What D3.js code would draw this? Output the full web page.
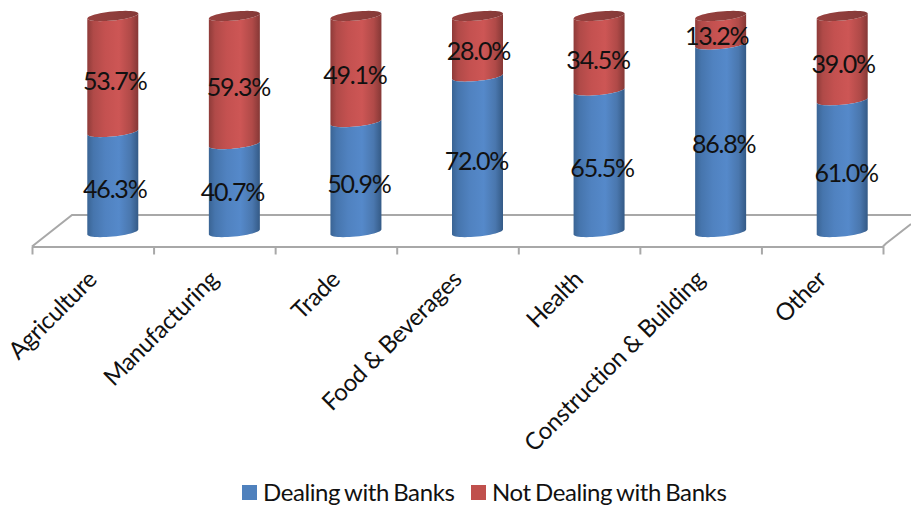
<!DOCTYPE html>
<html>
<head>
<meta charset="utf-8">
<script src="https://cdn.jsdelivr.net/npm/d3@7/dist/d3.min.js"></script>
<style>
  html, body { margin: 0; padding: 0; background: #fff; }
  svg { display: block; }
  text { font-family: Lato, "Open Sans", sans-serif; fill: #111; }
</style>
</head>
<body>
<script>
// Survey shares per sector
const categories = ["Agriculture", "Manufacturing", "Trade", "Food & Beverages", "Health", "Construction & Building", "Other"];
const dealing = [46.3, 40.7, 50.9, 72.0, 65.5, 86.8, 61.0];
const notDealing = [53.7, 59.3, 49.1, 28.0, 34.5, 13.2, 39.0];
const seriesNames = ["Dealing with Banks", "Not Dealing with Banks"];

// Hand-placed data label offsets from each segment's centre
const dealingNudge = [[2, 5], [-2, 2], [3, 5], [-1, 5], [3, 5], [3, 4], [4, 5]];
const notDealingNudge = [[2, 5], [4, 5], [-1, 4], [1, 3], [-1, 5], [-4, 4], [1, 4]];

const width = 911, height = 508;
const svg = d3.select("body").append("svg").attr("width", width).attr("height", height);

const axisLeft = 32, axisRight = 883, floorFront = 246.5, floorBack = 215;
const depthShift = 20;
const barWidth = 51;

const edges = d3.scaleLinear().domain([0, categories.length]).range([axisLeft, axisRight]);
const x = d3.scaleBand().domain(categories).range([axisLeft, axisRight]);
const y = d3.scaleLinear().domain([0, 100]).range([232, 16]);

const barCentre = c => x(c) + x.bandwidth() / 2 + depthShift;

// Body gradients: dark rims with the highlight right of centre
const defs = svg.append("defs");
function bodyGradient(id, stops) {
  const g = defs.append("linearGradient").attr("id", id).attr("x1", 0).attr("x2", 1).attr("y1", 0).attr("y2", 0);
  stops.forEach(([o, c]) => g.append("stop").attr("offset", o).attr("stop-color", c));
}
bodyGradient("blueBody", [[0, "#3a6494"], [0.12, "#4675ad"], [0.35, "#5082c0"], [0.62, "#5589ca"], [0.85, "#4a77ae"], [1, "#345a86"]]);
bodyGradient("redBody", [[0, "#8e3b39"], [0.12, "#b04a48"], [0.35, "#c45150"], [0.62, "#cd5655"], [0.85, "#b04a48"], [1, "#853836"]]);
bodyGradient("redCap", [[0, "#97403e"], [0.5, "#8f3e3c"], [1, "#843a38"]]);

// Floor of the 3D plot area
const floorColor = "#a8a8a8";
const floor = svg.append("g").attr("fill", "none").attr("stroke", floorColor).attr("stroke-width", 2);
floor.append("path").attr("d", d3.line()([[axisLeft, floorFront], [72, floorBack], [width, floorBack]]));
floor.append("path").attr("d", d3.line()([[axisRight, floorFront], [886, 243.5], [width, 224]]));

const axis = d3.axisBottom(edges).tickValues(d3.range(categories.length + 1)).tickFormat("").tickSize(8).tickSizeOuter(0);
const axisG = svg.append("g").attr("transform", `translate(0,${floorFront})`).call(axis);
axisG.selectAll("path, line").attr("stroke", floorColor).attr("stroke-width", 2);

// Sheared ellipse outline: angle 0 is the right rim, PI the left rim, PI/2 the front
const rx = barWidth / 2, ry = 4.5, shear = 2.5;
const rimPoint = (cx, cy, t) => [cx + rx * Math.cos(t), cy + ry * Math.sin(t) - shear * Math.cos(t)];
const frontAngles = d3.range(0, 25).map(i => Math.PI * i / 24);
const frontRim = (cx, cy) => frontAngles.map(t => rimPoint(cx, cy, t));
const line = d3.line();

function segmentPath(cx, yTop, yBottom) {
  // Right-to-left along the upper rim, then left-to-right along the lower one
  const top = frontRim(cx, yTop);
  const bottom = frontRim(cx, yBottom).reverse();
  return line(top.concat(bottom)) + "Z";
}

const bars = svg.append("g").selectAll("g").data(categories).join("g");
bars.append("path")
  .attr("fill", "url(#redBody)")
  .attr("d", (c, i) => segmentPath(barCentre(c), y(100), y(dealing[i])));
bars.append("path")
  .attr("fill", "url(#blueBody)")
  .attr("d", (c, i) => segmentPath(barCentre(c), y(dealing[i]), y(0)));
bars.append("path")
  .attr("fill", "url(#redCap)")
  .attr("d", c => line(d3.range(0, 48).map(k => rimPoint(barCentre(c), y(100), 2 * Math.PI * k / 48))) + "Z");

// Data labels
const labels = svg.append("g").attr("font-size", 25).attr("letter-spacing", -1.2).attr("text-anchor", "middle");
categories.forEach((c, i) => {
  labels.append("text")
    .attr("x", barCentre(c) + dealingNudge[i][0])
    .attr("y", y(dealing[i] / 2) + dealingNudge[i][1] + 11)
    .text(dealing[i].toFixed(1) + "%");
  labels.append("text")
    .attr("x", barCentre(c) + notDealingNudge[i][0])
    .attr("y", y(dealing[i] + notDealing[i] / 2) + notDealingNudge[i][1] + 11)
    .text(notDealing[i].toFixed(1) + "%");
});

// Category labels, rotated up to the right
svg.append("g").attr("font-size", 24).attr("letter-spacing", -0.35).attr("text-anchor", "end")
  .selectAll("text").data(categories).join("text")
  .attr("transform", c => `translate(${x(c) + x.bandwidth() / 2 + 5.5},${281}) rotate(-45)`)
  .text(c => c);

// Legend
const legendColor = ["#4f81bd", "#c0504d"];
const legendX = [242, 471];
const legend = svg.append("g").selectAll("g").data(seriesNames).join("g")
  .attr("transform", (d, i) => `translate(${legendX[i]},485)`);
legend.append("rect").attr("width", 15).attr("height", 15).attr("fill", (d, i) => legendColor[i]);
legend.append("text").attr("x", 21).attr("y", 15.5).attr("font-size", 24).attr("letter-spacing", -0.4).attr("word-spacing", -1.5).text(d => d);
</script>
</body>
</html>
